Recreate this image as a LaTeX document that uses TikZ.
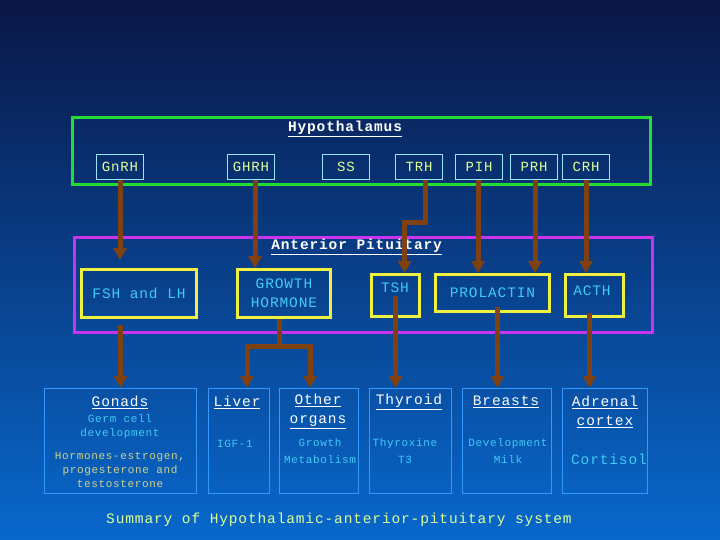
\documentclass[tikz,border=0pt]{standalone}
\usepackage{fontspec}
\setmainfont{Liberation Mono}[LetterSpace=6]
\usetikzlibrary{arrows.meta}
\definecolor{bgtop}{HTML}{0A1646}
\definecolor{bgmid}{HTML}{054A9E}
\definecolor{bgbot}{HTML}{0868CC}
\definecolor{hgreen}{HTML}{22DD33}
\definecolor{magb}{HTML}{CC33EE}
\definecolor{yelb}{HTML}{F0F040}
\definecolor{hcyan}{HTML}{99E6FF}
\definecolor{hyel}{HTML}{DDFF99}
\definecolor{cyantxt}{HTML}{40CCF5}
\definecolor{khaki}{HTML}{D2D28A}
\definecolor{bblue}{HTML}{3399FF}
\definecolor{arrc}{HTML}{7F4012}
\begin{document}
\begin{tikzpicture}[x=1pt,y=-1pt,
  arr/.style={draw=arrc, line width=5pt, -{Triangle[width=13pt,length=12pt]}},
  stem/.style={draw=arrc, line width=5pt},
  hbox/.style={draw=hcyan, line width=1.5pt, minimum width=47pt, minimum height=25pt, inner sep=0pt, text=hyel, font=\fontsize{14}{16}\selectfont},
  ybox/.style={draw=yelb, line width=3pt, inner sep=0pt, text=cyantxt, align=center, font=\fontsize{14.5}{19}\selectfont},
  bbox/.style={draw=bblue, line width=1pt, minimum height=105pt, inner sep=0pt},
  head/.style={text=white, inner sep=0pt, align=center, font=\fontsize{14.5}{19}\selectfont},
  title/.style={text=white, inner sep=0pt, font=\bfseries\fontsize{14.5}{16}\selectfont},
  small/.style={text=cyantxt, inner sep=0pt, align=center, font=\fontsize{11}{14}\selectfont}]
\shade[top color=bgtop, middle color=bgmid, bottom color=bgbot] (0,0) rectangle (720,540);
\useasboundingbox (0,0) rectangle (720,540);

% Hypothalamus
\node[draw=hgreen, line width=3pt, minimum width=578pt, minimum height=67pt, inner sep=0pt] (hyp) at (361.5,151) {};
\node[title] (hyptitle) at (345,129) {\underline{Hypothalamus}};
\node[hbox] (gnrh) at (120,167) {GnRH};
\node[hbox] (ghrh) at (251,167) {GHRH};
\node[hbox] (ss) at (346,167) {SS};
\node[hbox] (trh) at (419,167) {TRH};
\node[hbox] (pih) at (479,167) {PIH};
\node[hbox] (prh) at (534,167) {PRH};
\node[hbox] (crh) at (586,167) {CRH};

% Anterior pituitary
\node[draw=magb, line width=3pt, minimum width=578pt, minimum height=95pt, inner sep=0pt] (ant) at (363.5,285) {};
\node[title] (anttitle) at (356.6,247) {\underline{Anterior Pituitary}};
\node[ybox, minimum width=115pt, minimum height=48pt] (fsh) at (139,293.5) {FSH and LH};
\node[ybox, minimum width=93pt, minimum height=48pt] (gh) at (284,293.5) {GROWTH\\HORMONE};
\node[ybox, minimum width=48pt, minimum height=42pt] (tsh) at (395.5,295.5) {};
\node[text=cyantxt, inner sep=0pt, font=\fontsize{14.5}{16}\selectfont] (tshl) at (395,288) {TSH};
\node[ybox, minimum width=114pt, minimum height=37pt] (prl) at (492.5,293) {PROLACTIN};
\node[ybox, minimum width=58pt, minimum height=42pt] (acth) at (594.5,295.5) {};
\node[text=cyantxt, inner sep=0pt, font=\fontsize{14.5}{16}\selectfont] (acthl) at (592,291) {ACTH};

% Target organs
\node[bbox, minimum width=152pt] (gon) at (120.5,441) {};
\node[bbox, minimum width=61pt] (liv) at (239,441) {};
\node[bbox, minimum width=79pt] (oth) at (319,441) {};
\node[bbox, minimum width=82pt] (thy) at (410.5,441) {};
\node[bbox, minimum width=89pt] (bre) at (507,441) {};
\node[bbox, minimum width=85pt] (adr) at (605,441) {};

\node[head] (gonh) at (120,402) {\underline{Gonads}};
\node[small] (gon1) at (120,427) {Germ cell\\development};
\node[small, text=khaki] (gon2) at (120,470) {Hormones-estrogen,\\progesterone and\\testosterone};
\node[head] (livh) at (237,402) {\underline{Liver}};
\node[small] (liv1) at (235,444) {IGF-1};
\node[head] (othh) at (318,411.5) {\underline{Other}\\\underline{organs}};
\node[small, font=\fontsize{11}{17}\selectfont] (oth1) at (320,451.5) {Growth\\Metabolism};
\node[head] (thyh) at (409,402) {\underline{Thyroid}};
\node[small, font=\fontsize{11}{17}\selectfont] (thy1) at (405,451.5) {Thyroxine\\T3};
\node[head] (breh) at (506,402) {\underline{Breasts}};
\node[small, font=\fontsize{11}{17}\selectfont] (bre1) at (508,451.5) {Development\\Milk};
\node[head] (adrh) at (605,411.5) {\underline{Adrenal}\\\underline{cortex}};
\node[small, font=\fontsize{14.5}{17}\selectfont] (adr1) at (609,459) {Cortisol};

\node[text=hyel, inner sep=0pt, font=\fontsize{14.5}{16}\selectfont] (summary) at (339,520) {Summary of Hypothalamic-anterior-pituitary system};

% Hypothalamus -> pituitary
\draw[arr] (gnrh.south) -- ([yshift=8pt]gnrh.south |- fsh.north);
\draw[arr] ([xshift=4pt]ghrh.south) -- ([xshift=4pt]ghrh.south |- gh.north);
\draw[arr] ([xshift=6pt]trh.south) -- ++(0,42) -| ([xshift=9pt]tsh.north);
\draw[arr] ([xshift=-1pt]pih.south) -- ([xshift=-1pt]pih.south |- prl.north);
\draw[arr] ([xshift=1pt]prh.south) -- ([xshift=1pt]prh.south |- prl.north);
\draw[arr] (crh.south) -- (crh.south |- acth.north);

% Pituitary -> organs
\draw[arr] ([yshift=-6pt]gon.north |- fsh.south) -- (gon.north);
\draw[stem] ([xshift=-5pt]gh.south) -- ++(0,27) coordinate (ghj);
\draw[arr] (ghj) -| ([xshift=8pt]liv.north);
\draw[arr] (ghj) -| ([xshift=-9pt]oth.north);
\draw[arr] (tsh.center) -- (tsh.center |- thy.north);
\draw[arr] ([xshift=5pt,yshift=6pt]prl.south) -- ([xshift=5pt]prl.south |- bre.north);
\draw[arr] ([xshift=-5pt,yshift=5pt]acth.south) -- ([xshift=-5pt]acth.south |- adr.north);
\end{tikzpicture}
\end{document}
